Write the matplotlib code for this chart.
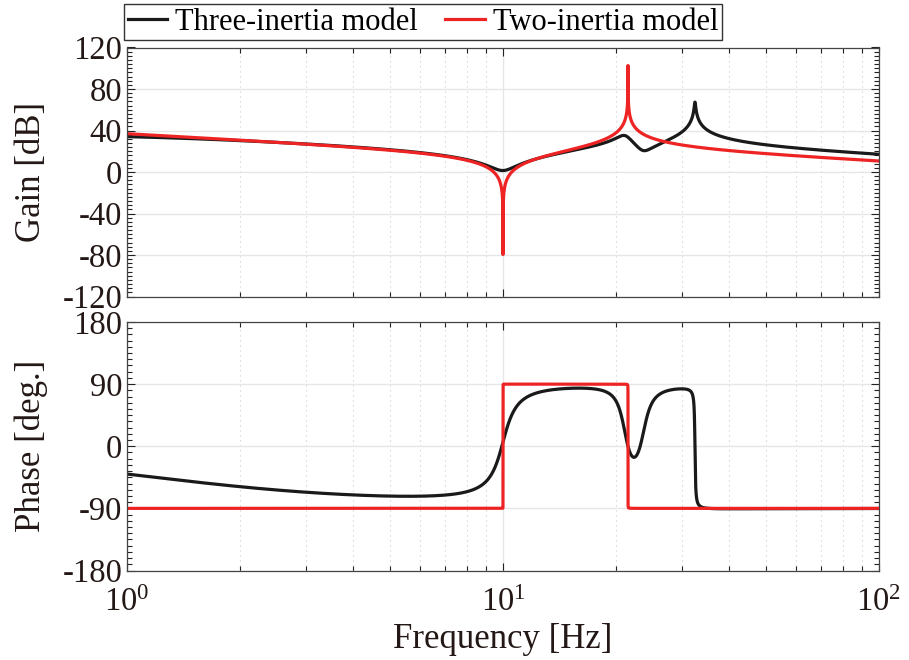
import numpy as np
import matplotlib
matplotlib.use("Agg")
import matplotlib.pyplot as plt
from matplotlib.ticker import MultipleLocator, LogLocator, NullFormatter

plt.rcParams['font.family'] = ['Liberation Serif', 'DejaVu Serif']
plt.rcParams['mathtext.fontset'] = 'custom'
plt.rcParams['mathtext.rm'] = 'Liberation Serif'
plt.rcParams['mathtext.it'] = 'Liberation Serif:italic'

# Model parameters (frequencies in Hz)
series_names = ["Three-inertia model", "Two-inertia model"]
series_colors = ["#1a1a1a", "#ee2324"]

# Two-inertia model: K / s * (s^2 + 2 za wa s + wa^2) / (s^2 + 2 zr wr s + wr^2)
two_gain = 2052.0
two_anti_freq = [10.0]
two_anti_zeta = [5.9e-6]
two_res_freq = [21.5]
two_res_zeta = [4.4e-5]
two_pole_freq = 0.0

# Three-inertia model: K / (s + wd) * prod(antiresonances) / prod(resonances)
three_gain = 4105.0
three_anti_freq = [10.0, 23.6]
three_anti_zeta = [0.065, 0.045]
three_res_freq = [21.1, 32.4]
three_res_zeta = [0.042, 0.0032]
three_pole_freq = 1.15

gain_ticks = [-120, -80, -40, 0, 40, 80, 120]
phase_ticks = [-180, -90, 0, 90, 180]


def response(freq, k, fa, za, fr, zr, fp):
    s = 1j * 2 * np.pi * freq
    g = k / (s + 2 * np.pi * fp)
    for f0, z in zip(fa, za):
        w = 2 * np.pi * f0
        g = g * (s ** 2 + 2 * z * w * s + w ** 2)
    for f0, z in zip(fr, zr):
        w = 2 * np.pi * f0
        g = g / (s ** 2 + 2 * z * w * s + w ** 2)
    return g


freq = np.logspace(0, 2, 20001)
freq = np.union1d(freq, two_anti_freq + two_res_freq + three_anti_freq + three_res_freq)

models = [
    response(freq, three_gain, three_anti_freq, three_anti_zeta,
             three_res_freq, three_res_zeta, three_pole_freq),
    response(freq, two_gain, two_anti_freq, two_anti_zeta,
             two_res_freq, two_res_zeta, two_pole_freq),
]

fig = plt.figure(figsize=(9.09, 6.6), dpi=100)
ax1 = fig.add_axes([127 / 909, 1 - 296.5 / 660, 752 / 909, 249 / 660])
ax2 = fig.add_axes([127 / 909, 1 - 570.5 / 660, 752 / 909, 248.5 / 660])

lines = []
for g, name, col in zip(models, series_names, series_colors):
    mag = 20 * np.log10(np.abs(g))
    ph = np.degrees(np.angle(g))
    ln, = ax1.semilogx(freq, mag, color=col, lw=2.3, label=name)
    ax2.semilogx(freq, ph, color=col, lw=2.3)
    lines.append(ln)

for ax in (ax1, ax2):
    ax.set_xlim(1, 100)
    ax.xaxis.set_major_locator(LogLocator(base=10, numticks=10))
    ax.xaxis.set_minor_locator(LogLocator(base=10, subs=np.arange(2, 10), numticks=10))
    ax.xaxis.set_minor_formatter(NullFormatter())
    ax.tick_params(which='both', direction='in', top=True, right=True,
                   labelsize=23.5, colors='#222222', labelcolor='#231815')
    ax.tick_params(which='major', length=6, width=0.8)
    ax.tick_params(which='minor', length=3.5, width=0.8)
    ax.grid(True, which='major', axis='both', color='#e6e6e6', lw=1.0, ls='-')
    ax.grid(True, which='minor', axis='x', color='#cccccc', lw=0.8, ls=(0, (1, 3.5)))
    ax.set_axisbelow(True)
    for sp in ax.spines.values():
        sp.set_color('#444444')
        sp.set_linewidth(0.9)

ax1.set_ylim(-120, 120)
ax1.set_yticks(gain_ticks)
ax1.yaxis.set_minor_locator(MultipleLocator(4))
ax1.set_yticklabels([str(t) for t in gain_ticks])
ax1.tick_params(axis='x', labelbottom=False)
ax1.set_ylabel('Gain [dB]', fontsize=25, color='#231815', labelpad=10)

ax2.set_ylim(-180, 180)
ax2.set_yticks(phase_ticks)
ax2.yaxis.set_minor_locator(MultipleLocator(9))
ax2.set_yticklabels([str(t) for t in phase_ticks])
ax2.set_ylabel('Phase [deg.]', fontsize=25, color='#231815', labelpad=10)
ax2.set_xlabel('Frequency [Hz]', fontsize=25, color='#231815', labelpad=4)
ax2.tick_params(axis='x', pad=12)

fig.legend(handles=lines, loc='upper left', bbox_to_anchor=(124 / 909, 1 - 4 / 660),
           ncol=2, fontsize=22, frameon=True, fancybox=False, edgecolor='#333333',
           framealpha=1, handlelength=1.3, handletextpad=0.25, columnspacing=0.9,
           borderpad=0.12, borderaxespad=0)

fig.savefig('out.png', dpi=100)
